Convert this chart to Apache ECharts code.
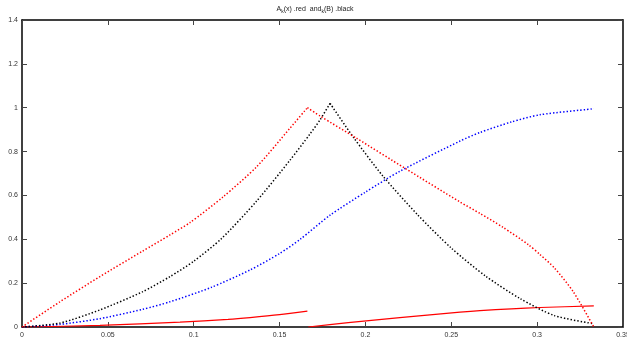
<!DOCTYPE html>
<html><head><meta charset="utf-8">
<script src="https://cdn.jsdelivr.net/npm/echarts@6/dist/echarts.min.js"></script>
<style>html,body{margin:0;padding:0;background:#fff}#c{width:627px;height:341px}</style>
</head><body><div id="c"></div>
<script>
// red dotted: A_k(x), left and right of its peak
const redDotLeft = [[0,0],[0.0221,0.115],[0.0454,0.23],[0.07,0.345],[0.0862,0.42],[0.0978,0.476],[0.1172,0.594],[0.1367,0.731],[0.156,0.906],[0.1662,1.0]];
const redDotRight = [[0.1662,1.0],[0.1736,0.962],[0.195,0.86],[0.223,0.724],[0.2551,0.57],[0.2667,0.518],[0.28,0.455],[0.295,0.375],[0.3017,0.33],[0.31,0.27],[0.3211,0.16],[0.333,0.0]];
// black dotted, left and right of its peak
const blackDotLeft = [[0,0],[0.0221,0.018],[0.0454,0.078],[0.07,0.16],[0.0862,0.23],[0.1,0.3],[0.1163,0.404],[0.1367,0.575],[0.156,0.76],[0.1677,0.88],[0.1736,0.945],[0.1794,1.02]];
const blackDotRight = [[0.1794,1.02],[0.193,0.865],[0.21,0.69],[0.23,0.515],[0.25,0.36],[0.27,0.232],[0.29,0.13],[0.31,0.052],[0.333,0.015]];
// blue dotted
const blueDot = [[0,0],[0.0221,0.012],[0.0454,0.038],[0.07,0.08],[0.0862,0.115],[0.11,0.18],[0.1328,0.26],[0.15,0.335],[0.162,0.4],[0.1794,0.51],[0.2,0.615],[0.22,0.71],[0.2551,0.848],[0.2667,0.887],[0.285,0.935],[0.3017,0.968],[0.333,0.995]];
// red solid, two pieces
const redSolid1 = [[0,0],[0.0454,0.007],[0.092,0.022],[0.12,0.035],[0.1328,0.043],[0.15,0.056],[0.1662,0.072]];
const redSolid2 = [[0.1667,0],[0.19,0.02],[0.22,0.043],[0.2551,0.068],[0.2667,0.075],[0.285,0.083],[0.3017,0.089],[0.333,0.096]];
const xTicks = {min:0, max:0.35, interval:0.05};
const yTicks = {min:0, max:1.4, interval:0.2};

const font = 'Liberation Sans, Arial, sans-serif';
const chart = echarts.init(document.getElementById('c'));
function dot(color, data){
  return {type:'line', data, symbol:'none', smooth:0.25, silent:true,
    lineStyle:{color, width:1.5, type:[1.4,2]}};
}
function solid(data){
  return {type:'line', data, symbol:'none', smooth:0.25, silent:true, lineStyle:{color:'#ff0000', width:1.2}};
}
const axisCommon = {
  axisLine:{show:true, onZero:false, lineStyle:{color:'#000', width:1.5}},
  axisTick:{show:true, inside:true, length:5, lineStyle:{color:'#444', width:1}},
  splitLine:{show:false}
};
chart.setOption({
  animation:false,
  title:{text:'{n|A}{s|k}{n|(x) .red  and}{s|k}{n|(B) .black}', left:310, top:0, textAlign:'center',
    textStyle:{rich:{n:{fontSize:7, fontFamily:font, fontWeight:'normal', color:'#222'}, s:{fontSize:5, fontFamily:font, fontWeight:'normal', color:'#222', verticalAlign:'bottom', padding:[4,0,0,0]}}}},
  grid:{left:22, right:4, top:20, bottom:14, outerBoundsMode:'none', containLabel:false},
  xAxis:[
    Object.assign({type:'value', min:xTicks.min, max:xTicks.max, interval:xTicks.interval, position:'bottom',
      axisLabel:{fontSize:7, fontFamily:font, color:'#333', margin:5, showMaxLabel:true}}, axisCommon),
    Object.assign({type:'value', min:xTicks.min, max:xTicks.max, interval:xTicks.interval, position:'top',
      axisLabel:{show:false}}, axisCommon)
  ],
  yAxis:[
    Object.assign({type:'value', min:yTicks.min, max:yTicks.max, interval:yTicks.interval, position:'left',
      axisLabel:{fontSize:7, fontFamily:font, color:'#333', margin:4}}, axisCommon),
    Object.assign({type:'value', min:yTicks.min, max:yTicks.max, interval:yTicks.interval, position:'right',
      axisLabel:{show:false}}, axisCommon)
  ],
  series:[
    solid(redSolid1), solid(redSolid2),
    dot('#0000ff', blueDot),
    dot('#000000', blackDotLeft), dot('#000000', blackDotRight),
    dot('#ff0000', redDotLeft), dot('#ff0000', redDotRight)
  ]
});
</script></body></html>
